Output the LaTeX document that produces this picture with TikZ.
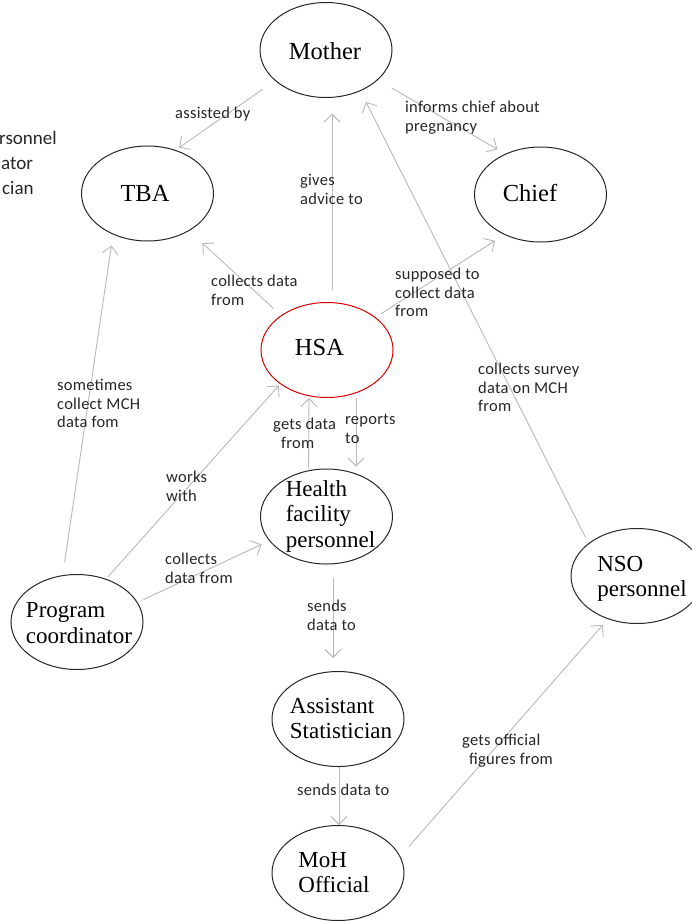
\documentclass[tikz,border=0pt]{standalone}
\usepackage{fontspec}
\setmainfont{Liberation Serif}
\newfontfamily\labelfont[LetterSpace=1.5]{Carlito}
\newfontfamily\legendfont{Carlito}
\usetikzlibrary{arrows.meta,shapes.geometric}

\tikzset{
  actor/.style={ellipse, draw=black!85, line width=1pt, minimum width=132pt,
    minimum height=95pt, inner sep=0pt},
  hsabox/.style={actor, draw=red!85!black},
  name1/.style={inner sep=0pt, font=\fontsize{24.5}{26}\selectfont},
  name2/.style={inner sep=0pt, align=left, font=\fontsize{23}{25.5}\selectfont},
  flow/.style={draw=gray!55, line width=0.9pt,
    -{Straight Barb[length=8pt,width=16pt,line width=0.9pt]}},
  lbl/.style={anchor=north west, inner sep=0pt, align=left, text=black!85,
    font=\labelfont\fontsize{16.5}{18.5}\selectfont},
  legend/.style={anchor=base west, inner sep=0pt, text=black!85,
    font=\legendfont\fontsize{19}{25}\selectfont},
}

\begin{document}
\begin{tikzpicture}[x=1pt,y=-1pt]
\useasboundingbox (0,0) rectangle (692,921);
\clip (0,0) rectangle (692,921);

% legend lines at the left edge
\node[legend] (leg1) at (-1,144.5) {rsonnel};
\node[legend] (leg2) at (1,169.5) {ator};
\node[legend] (leg3) at (2,194.5) {cian};

% actors
\node[actor]  (mother) at (326,50) {};
\node[actor]  (tba)    at (147.5,193.5) {};
\node[actor]  (chief)  at (540.5,194.5) {};
\node[hsabox] (hsa)    at (327,350) {};
\node[actor]  (hfp)    at (326.5,516.5) {};
\node[actor]  (pc)     at (77,622) {};
\node[actor]  (nso)    at (637,576) {};
\node[actor]  (as)     at (338,719) {};
\node[actor]  (moh)    at (338,873) {};

\node[name1] (mothertxt) at (325,51.6)  {Mother};
\node[name1] (tbatxt)    at (145,193.5) {TBA};
\node[name1] (chieftxt)  at (530,193.4) {Chief};
\node[name1] (hsatxt)    at (319.5,348) {HSA};
\node[name2] (hfptxt)    at (330.5,516) {Health\\facility\\personnel};
\node[name2] (pctxt)     at (79,623)    {Program\\coordinator};
\node[name2] (nsotxt)    at (642,579)   {NSO\\personnel};
\node[name2] (astxt)     at (341,718.5) {Assistant\\Statistician};
\node[name2] (mohtxt)    at (334,872.4) {MoH\\Official};

% connectors
\draw[flow, shorten <=15pt, shorten >=4pt]  (mother.211) -- (tba.57);
\draw[flow, shorten <=16pt, shorten >=9pt]  (mother.330) -- (chief.131);
\draw[flow, shorten <=12.5pt, shorten >=15.5pt]
  ([xshift=5pt]hsa.north) -- ([xshift=6pt]mother.south);
\draw[flow, shorten <=10pt, shorten >=18pt] (hsa.143.5) -- (tba.318.3);
\draw[flow, shorten <=7pt, shorten >=11pt]  (hsa.34.9) -- (chief.228.8);
\draw[flow, shorten <=6.7pt, shorten >=12pt] (nso.146.3) -- (mother.310);
\draw[flow, shorten <=13pt, shorten >=11pt] (pc.107) -- (tba.230.7);
\draw[flow, shorten <=2.6pt, shorten >=2pt] (pc.56.3) -- (hsa.216.1);
\draw[flow, shorten <=6.4pt, shorten >=8.4pt] (pc.18.4) -- (hfp.203.1);
\draw[flow] ([xshift=-18pt]hfp.north) -- ([xshift=-18pt]hsa.south);
\draw[flow, shorten >=2pt] ([xshift=29pt]hsa.south) -- ([xshift=29.5pt]hfp.north);
\draw[flow, shorten <=13pt, shorten >=13pt]
  ([xshift=6.5pt]hfp.south) -- ([xshift=-5pt]as.north);
\draw[flow] ([xshift=1pt]as.south) -- ([xshift=1pt]moh.north);
\draw[flow, shorten <=13pt, shorten >=7.6pt] (moh.15.8) -- (nso.236.9);

% connector labels
\node[lbl] (l1)  at (175,105.75) {\strut assisted by};
\node[lbl] (l2)  at (405,99.75)  {\strut informs chief about\\pregnancy};
\node[lbl] (l3)  at (300,172.75) {\strut gives\\advice to};
\node[lbl] (l4)  at (211,273.75) {\strut collects data\\from};
\node[lbl] (l5)  at (395,266.75) {\strut supposed to\\collect data\\from};
\node[lbl] (l6)  at (478,361.4)  {\strut collects survey\\data on MCH\\from};
\node[lbl] (l7)  at (57,377.75)  {\strut sometimes\\collect MCH\\data fom};
\node[lbl] (l8)  at (166,469.75) {\strut works\\with};
\node[lbl] (l9)  at (273,416.75) {\strut gets data\\\hspace*{8pt}from};
\node[lbl] (l10) at (345,411.75) {\strut reports\\to};
\node[lbl] (l11) at (165,551.75) {\strut collects\\data from};
\node[lbl] (l12) at (307,598.75) {\strut sends\\data to};
\node[lbl] (l13) at (462,732.75) {\strut gets official\\\hspace*{7pt}figures from};
\node[lbl] (l14) at (297,782.75) {\strut sends data to};
\end{tikzpicture}
\end{document}
